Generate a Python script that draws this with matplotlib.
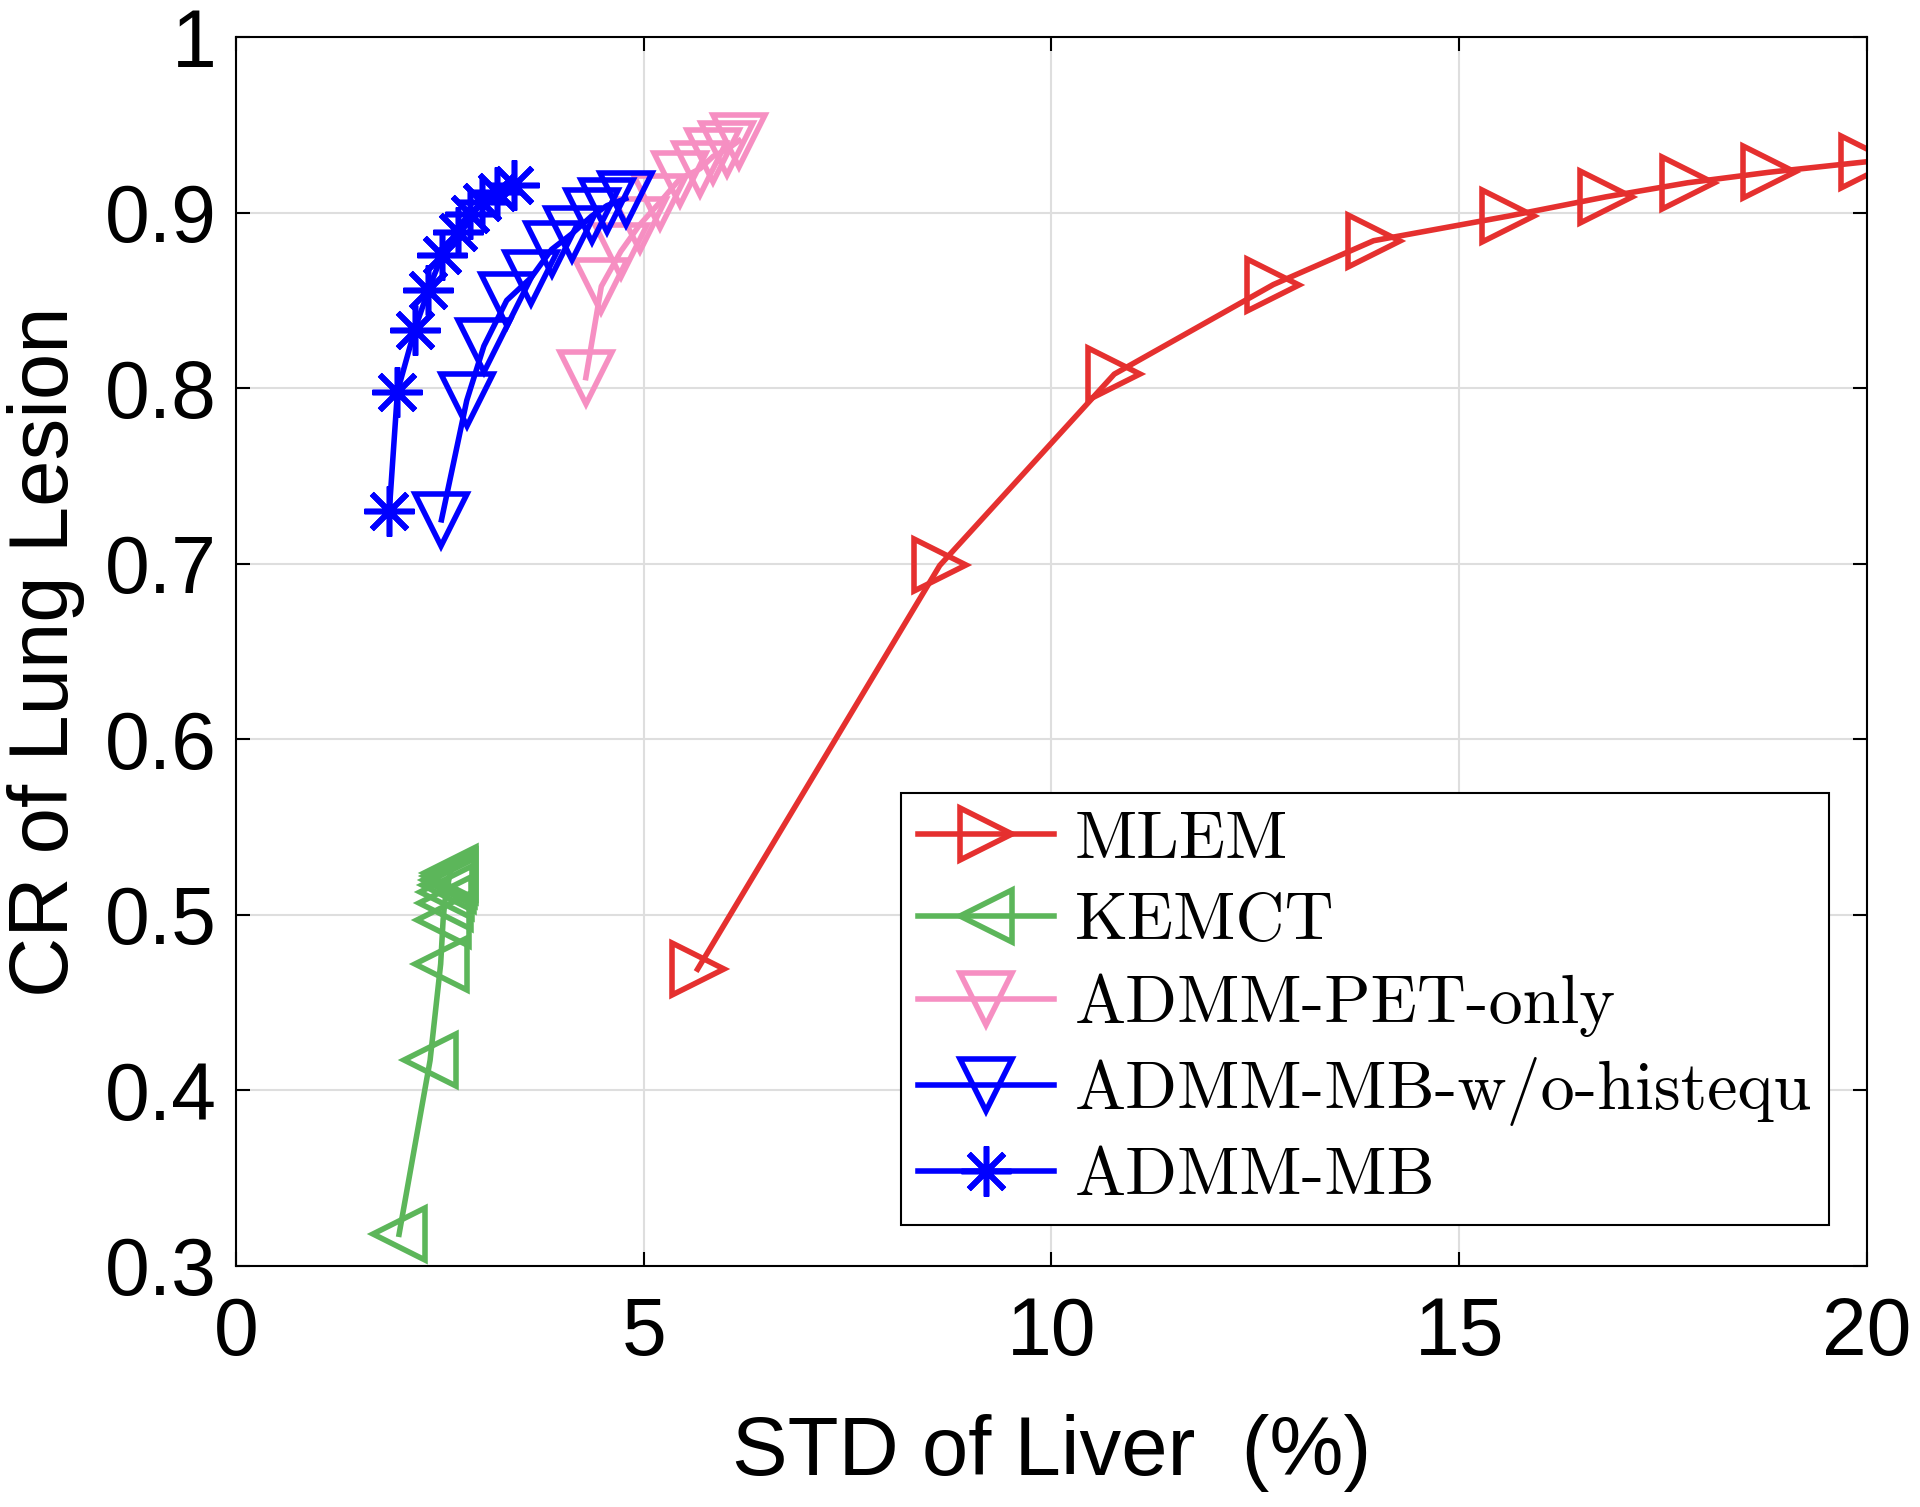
import matplotlib
matplotlib.use("Agg")
import matplotlib.pyplot as plt

# data
mlem_x = [5.66, 8.63, 10.77, 12.72, 13.95, 15.6, 16.8, 17.8, 18.8, 20.0]
mlem_y = [0.469, 0.699, 0.808, 0.859, 0.884, 0.898, 0.909, 0.917, 0.923, 0.929]

kemct_x = [2.0, 2.38, 2.51, 2.54, 2.56, 2.58, 2.60, 2.61, 2.62, 2.63]
kemct_y = [0.318, 0.417, 0.472, 0.497, 0.507, 0.513, 0.517, 0.520, 0.522, 0.524]

pet_x = [4.29, 4.48, 4.72, 4.95, 5.2, 5.44, 5.69, 5.85, 6.02, 6.17]
pet_y = [0.806, 0.858, 0.878, 0.893, 0.906, 0.919, 0.925, 0.932, 0.936, 0.941]

woh_x = [2.52, 2.83, 3.04, 3.32, 3.62, 3.87, 4.12, 4.36, 4.55, 4.78]
woh_y = [0.725, 0.793, 0.824, 0.850, 0.863, 0.879, 0.888, 0.898, 0.904, 0.908]

mb_x = [1.88, 1.98, 2.19, 2.36, 2.53, 2.72, 2.87, 3.02, 3.20, 3.41]
mb_y = [0.730, 0.798, 0.833, 0.856, 0.876, 0.889, 0.899, 0.906, 0.912, 0.916]

x_ticks = [0, 5, 10, 15, 20]
y_ticks = [0.3, 0.4, 0.5, 0.6, 0.7, 0.8, 0.9, 1.0]
y_tick_labels = ["0.3", "0.4", "0.5", "0.6", "0.7", "0.8", "0.9", "1"]

fig = plt.figure(figsize=(19.2, 15.07), dpi=100)
ax = fig.add_axes([0.1229, 0.16, 0.8495, 0.8154])

lw = 4.0
ms = 37
mew = 4.0

ax.plot(mlem_x, mlem_y, color="#e5302f", marker=">", ms=ms, mew=mew,
        mfc="none", lw=lw, label="MLEM")
ax.plot(kemct_x, kemct_y, color="#5cb65a", marker="<", ms=ms, mew=mew,
        mfc="none", lw=lw, label="KEMCT")
ax.plot(pet_x, pet_y, color="#f68fc2", marker="v", ms=ms, mew=mew,
        mfc="none", lw=lw, label="ADMM-PET-only")
ax.plot(woh_x, woh_y, color="#0000ff", marker="v", ms=ms, mew=mew,
        mfc="none", lw=lw, label="ADMM-MB-w/o-histequ")
# MATLAB-style asterisk (8 arms)
ax.plot(mb_x, mb_y, color="#0000ff", marker=(8, 2, 0), ms=36, mew=mew,
        lw=lw, label="ADMM-MB")

ax.set_xlim(0, 20)
ax.set_ylim(0.3, 1.0)
ax.set_xticks(x_ticks)
ax.set_yticks(y_ticks)
ax.set_yticklabels(y_tick_labels)
ax.grid(True, color="#dedede", lw=1.5)
ax.set_axisbelow(True)

for s in ax.spines.values():
    s.set_linewidth(1.5)
ax.tick_params(direction="in", length=10, width=1.5, top=True, right=True,
               labelsize=58)
ax.tick_params(axis="x", pad=22)
ax.tick_params(axis="y", pad=14)
for lab in ax.get_xticklabels() + ax.get_yticklabels():
    lab.set_family("Liberation Sans")

ax.set_xlabel("STD of Liver  (%)", fontsize=60, family="Liberation Sans",
              labelpad=30)
ax.set_ylabel("CR of Lung Lesion", fontsize=60, family="Liberation Sans",
              labelpad=14)

leg = ax.legend(loc="lower right", bbox_to_anchor=(0.9766, 0.0335),
                prop={"family": "cmr10", "size": 49}, frameon=True,
                fancybox=False, edgecolor="black", framealpha=1,
                handlelength=2.0, handletextpad=0.3, labelspacing=0.3,
                borderpad=0.25, borderaxespad=0, markerscale=1.0)
leg.get_frame().set_linewidth(1.5)

fig.savefig("out.png", dpi=100)
